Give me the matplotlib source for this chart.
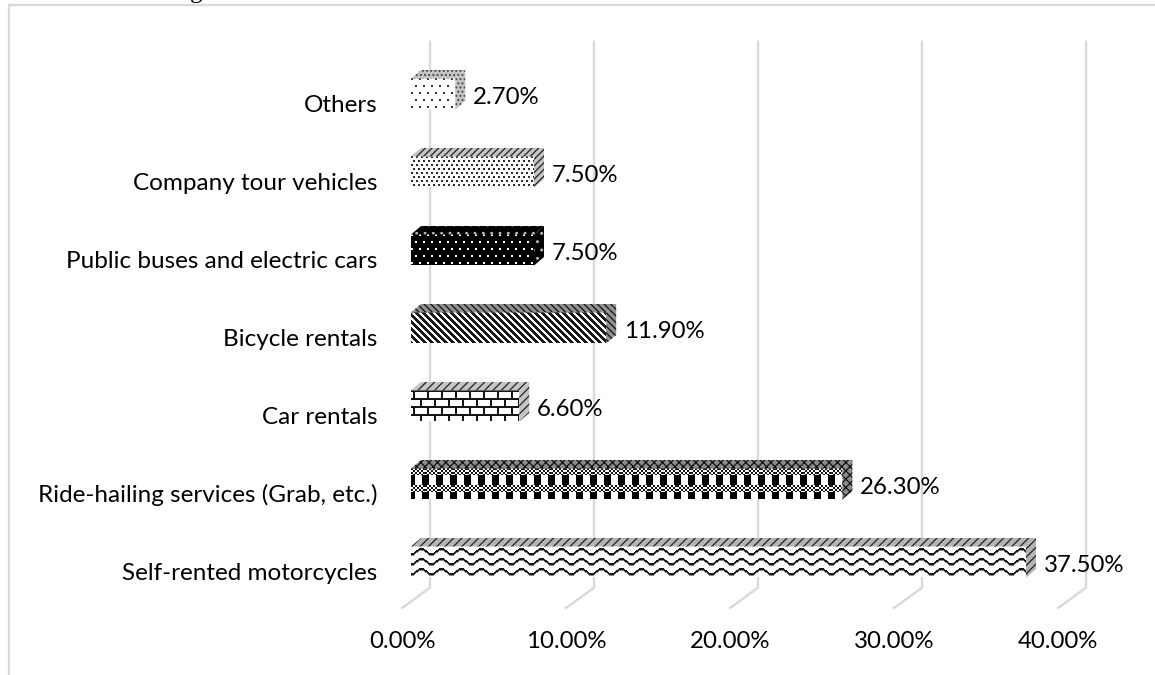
"""Horizontal 3D-look bar chart of tourist transport choices, with fill patterns."""

import numpy as np
import matplotlib
matplotlib.use("Agg")
import matplotlib.pyplot as plt
from matplotlib.lines import Line2D
from matplotlib.patches import Polygon
from matplotlib.transforms import offset_copy

categories = ["Self-rented motorcycles", "Ride-hailing services (Grab, etc.)", "Car rentals",
              "Bicycle rentals", "Public buses and electric cars", "Company tour vehicles", "Others"]
values = [37.5, 26.3, 6.6, 11.9, 7.5, 7.5, 2.7]
value_labels = ["37.50%", "26.30%", "6.60%", "11.90%", "7.50%", "7.50%", "2.70%"]
ticks = [0, 10, 20, 30, 40]
tick_labels = ["0.00%", "10.00%", "20.00%", "30.00%", "40.00%"]

W, H = 1155, 675
AX_L, AX_R, AX_T, AX_B = 411, 1067, 55, 601
PX_X = (AX_R - AX_L) / 40   # pixels per percent
PX_Y = (AX_B - AX_T) / 7    # pixels per category
BAR_PX = 31
DEPTH_X, DEPTH_Y = 10 / PX_X, 8.5 / PX_Y
GRID = "#d9d9d9"
FS = 17.3

plt.rcParams["font.family"] = ["Lato", "DejaVu Sans"]
plt.rcParams["hatch.linewidth"] = 0.9


def wave_tile():
    t = np.full((10, 20), 255)
    for x in range(20):
        y = int(round(4.5 + 2.6 * np.cos(2 * np.pi * x / 20)))
        for k in range(3):
            t[(y + k) % 10, x] = 25 if k < 2 else 130
    return t


def ride_tile():
    t = np.full((17, 14), 255)
    yy, xx = np.mgrid[0:17, 0:14]
    t[(yy < 7) & (((xx // 2) + (yy // 2)) % 2 == 0)] = 20
    t[(yy >= 7) & (((xx + 3) % 14) < 7)] = 0
    return t


def brick_tile():
    t = np.full((16, 14), 255)
    t[[0, 1, 8, 9], :] = 20
    t[0:8, [2, 3]] = 20
    t[8:16, [9, 10]] = 20
    return t


def stripe_tile():
    yy, xx = np.mgrid[0:7, 0:7]
    return np.where((xx - yy) % 7 < 3, 255, 25)


def dot_tile(w, h, fg, bg, size):
    t = np.full((h, w), bg)
    t[0:size, 0:size] = fg
    t[h // 2:h // 2 + size, w // 2:w // 2 + size] = fg
    return t


front_tiles = [wave_tile(), ride_tile(), brick_tile(), stripe_tile(),
               dot_tile(8, 14, 255, 0, 2), dot_tile(5, 8, 45, 255, 2), dot_tile(8, 14, 50, 255, 2)]
# top / side face colour, hatch colour, hatch
shade = [("#b4b4b4", "#222222", "////"), ("#8a8a8a", "#111111", "xxxx"), ("#c4c4c4", "#222222", "////"),
         ("#909090", "#111111", "\\\\\\\\\\"), ("#000000", "#bbbbbb", ".."), ("#c4c4c4", "#222222", "/////"),
         ("#c4c4c4", "#444444", "....")]

fig = plt.figure(figsize=(W / 100, H / 100), dpi=100)
fig.patch.set_facecolor("white")
ax = fig.add_axes([AX_L / W, 1 - AX_B / H, (AX_R - AX_L) / W, (AX_B - AX_T) / H])

# chart frame (cropped at the bottom and right of the picture)
fig.add_artist(Line2D([9 / W, 1], [1 - 5 / H, 1 - 5 / H], color=GRID, lw=1.6))
fig.add_artist(Line2D([9 / W, 9 / W], [0, 1 - 5 / H], color=GRID, lw=1.6))
fig.text(196 / W, 1 + 8 / H, "g", family="Liberation Serif", fontsize=18, ha="center", va="center", color="black")

# wall and floor gridlines
wall_dx, floor_dx = 19 / PX_X, -9 / PX_X
wall_top, wall_bottom, floor_end = 6.67, -0.33, -0.59
for t, lab in zip(ticks, tick_labels):
    ax.plot([t + wall_dx, t + wall_dx, t + floor_dx], [wall_top, wall_bottom, floor_end],
            color=GRID, lw=1.7, clip_on=False, zorder=1, solid_joinstyle="miter")
    # the labels sit under the floor ends, which for 0% is left of the axis
    ax.annotate(lab, (t + floor_dx, -0.5), xytext=(0, -29.5), textcoords="offset points",
                ha="center", va="center", fontsize=FS, annotation_clip=False)

half = BAR_PX / PX_Y / 2
for i, (v, tile, sh) in enumerate(zip(values, front_tiles, shade)):
    nx, ny = int(round(v * PX_X)), BAR_PX
    img = np.tile(tile, (ny // tile.shape[0] + 1, nx // tile.shape[1] + 1))[:ny, :nx]
    ax.imshow(img, cmap="gray", vmin=0, vmax=255, extent=(0, nx / PX_X, i - half, i + half),
              aspect="auto", interpolation="nearest", zorder=3, clip_on=False)
    face, hatch_col, hatch = sh
    top = [(0, i + half), (v, i + half), (v + DEPTH_X, i + half + DEPTH_Y), (DEPTH_X, i + half + DEPTH_Y)]
    side = [(v, i - half), (v + DEPTH_X, i - half + DEPTH_Y), (v + DEPTH_X, i + half + DEPTH_Y), (v, i + half)]
    for pts in (top, side):
        ax.add_patch(Polygon(pts, closed=True, facecolor=face, edgecolor=hatch_col, hatch=hatch,
                             lw=0, zorder=3, clip_on=False))
    ax.annotate(value_labels[i], (v + DEPTH_X, i), xytext=(5.5, -2.5), textcoords="offset points",
                ha="left", va="center", fontsize=FS, color="black", zorder=4)

ax.set_xticks([])
ax.set_yticks(range(len(categories)), categories)
ax.set_xlim(0, 40)
ax.set_ylim(-0.5, 6.5)
ax.tick_params(axis="y", length=0, labelsize=17.5, pad=24)
for lab in ax.get_yticklabels():
    lab.set_transform(offset_copy(lab.get_transform(), fig=fig, x=0, y=-9, units="dots"))
for s in ax.spines.values():
    s.set_visible(False)
ax.patch.set_alpha(0)

fig.savefig("out.png", dpi=100)
